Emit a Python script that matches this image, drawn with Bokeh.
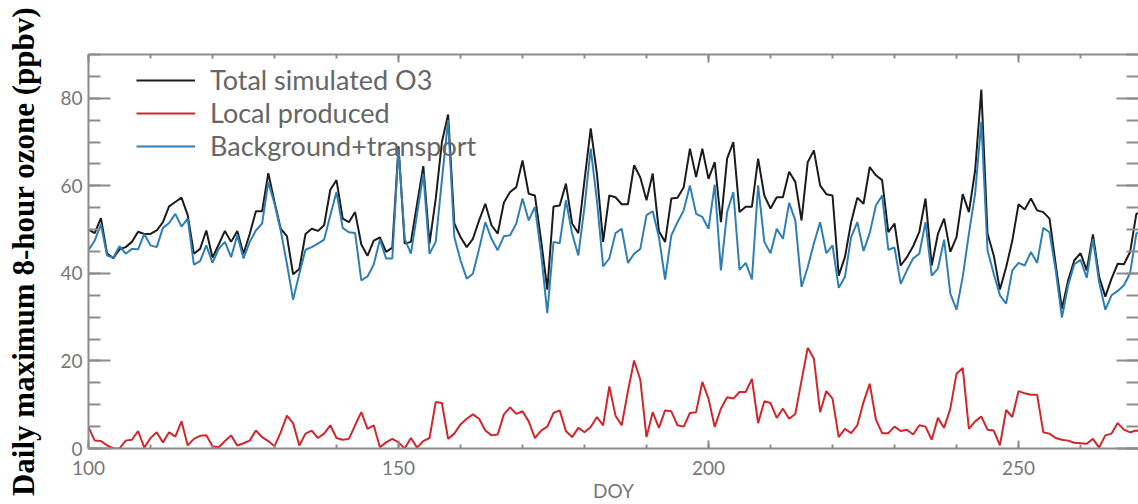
from bokeh.plotting import figure
from bokeh.models import LinearAxis, Range1d, FixedTicker, Legend, LegendItem
from bokeh.embed import file_html
from bokeh.resources import INLINE

days = list(range(100, 271))

total_o3 = [
    50.0, 49.2, 52.6, 44.5, 43.5, 45.5, 46.0, 47.2, 49.5, 49.0,
    49.0, 49.8, 51.7, 55.3, 56.3, 57.3, 53.3, 44.5, 45.6, 49.8,
    43.6, 46.6, 49.7, 47.2, 49.7, 44.5, 49.0, 54.2, 54.2, 62.9,
    56.3, 50.2, 48.5, 39.8, 41.0, 49.0, 50.2, 49.7, 51.0, 59.1,
    61.3, 52.5, 51.7, 54.0, 46.6, 44.0, 47.5, 48.2, 44.9, 45.9,
    69.0, 46.8, 47.2, 55.9, 64.5, 46.8, 57.0, 70.0, 76.3, 51.4,
    48.3, 46.0, 47.9, 52.1, 55.9, 51.0, 49.1, 56.2, 58.6, 59.7,
    65.8, 58.2, 57.8, 47.5, 36.3, 55.3, 55.5, 60.5, 51.4, 49.2,
    61.3, 73.1, 62.8, 47.2, 57.8, 57.4, 55.8, 55.8, 64.7, 61.9,
    56.7, 62.8, 49.6, 47.2, 57.1, 57.3, 59.7, 68.5, 62.0, 68.5,
    61.6, 65.4, 51.7, 66.2, 70.0, 54.0, 55.2, 55.2, 66.2, 57.8,
    54.8, 57.4, 57.4, 63.2, 60.9, 52.1, 65.4, 68.1, 60.1, 58.1,
    57.8, 39.5, 43.7, 51.7, 57.3, 55.9, 64.3, 62.4, 61.3, 49.4,
    51.4, 41.8, 43.7, 46.2, 49.5, 57.1, 41.8, 49.0, 52.5, 44.9,
    48.3, 58.1, 54.0, 63.5, 82.0, 49.1, 44.1, 36.3, 41.4, 47.5,
    55.8, 54.6, 57.1, 54.4, 54.0, 52.5, 42.0, 31.9, 38.4, 43.0,
    44.6, 40.7, 48.9, 39.2, 34.7, 38.8, 42.2, 42.1, 44.9, 53.6,
    54.0,
]

background = [
    45.3, 47.5, 51.2, 44.1, 43.6, 46.2, 44.5, 45.6, 45.5, 49.0,
    46.4, 46.0, 50.4, 51.5, 53.6, 50.7, 52.5, 42.0, 42.8, 46.4,
    42.4, 45.6, 47.2, 43.7, 48.7, 43.4, 47.2, 49.8, 51.4, 60.9,
    55.9, 49.8, 42.2, 34.0, 39.9, 45.4, 46.0, 46.8, 47.7, 53.3,
    58.6, 50.4, 49.4, 49.2, 38.4, 39.3, 42.0, 47.7, 43.4, 43.4,
    68.5, 47.9, 44.5, 53.6, 62.8, 44.5, 47.2, 61.3, 75.0, 48.3,
    43.0, 38.8, 39.9, 45.6, 51.7, 47.9, 45.3, 48.5, 48.7, 51.4,
    57.1, 52.1, 55.2, 44.5, 30.9, 47.2, 46.9, 56.7, 49.1, 44.1,
    55.2, 68.5, 56.7, 41.6, 43.4, 49.2, 50.2, 42.4, 44.5, 45.6,
    53.3, 54.2, 48.3, 38.6, 48.7, 51.7, 54.4, 60.1, 53.6, 52.9,
    50.2, 60.3, 40.7, 54.0, 58.6, 40.8, 42.4, 38.6, 60.1, 47.2,
    44.6, 50.2, 47.9, 56.1, 52.1, 36.9, 41.4, 46.9, 51.7, 44.6,
    46.4, 36.7, 39.2, 48.3, 51.7, 45.1, 49.2, 55.5, 57.8, 45.4,
    45.9, 37.6, 40.7, 43.4, 44.5, 51.7, 39.5, 41.1, 47.7, 35.4,
    31.7, 39.2, 49.1, 58.2, 74.6, 45.3, 39.9, 35.0, 33.1, 40.7,
    42.4, 41.8, 44.9, 42.4, 50.4, 49.4, 40.7, 29.9, 37.3, 42.1,
    43.1, 39.0, 47.9, 38.0, 31.7, 35.0, 36.0, 37.3, 40.1, 49.1,
    50.0,
]

local_produced = [
    4.9, 1.8, 1.7, 0.7, 0.0, 0.0, 1.8, 2.0, 4.0, 0.2,
    2.4, 3.7, 1.4, 3.7, 2.7, 6.2, 0.7, 2.2, 2.9, 3.0,
    0.5, 0.3, 1.7, 3.0, 0.7, 1.2, 1.8, 4.1, 2.6, 1.7,
    0.5, 3.7, 7.5, 5.8, 0.7, 3.4, 4.1, 2.4, 3.4, 5.3,
    2.4, 2.0, 2.2, 5.3, 8.3, 4.5, 5.3, 0.3, 1.4, 2.2,
    1.4, 0.0, 2.4, 0.2, 1.7, 2.4, 10.6, 10.4, 2.2, 3.4,
    5.5, 6.8, 7.8, 6.8, 4.1, 3.0, 3.2, 7.8, 9.4, 7.9,
    8.5, 6.2, 2.4, 4.1, 5.0, 8.1, 8.7, 4.0, 2.6, 4.7,
    3.7, 4.9, 7.2, 5.3, 14.2, 7.5, 5.3, 13.1, 20.1, 15.7,
    2.6, 8.3, 4.7, 8.7, 8.5, 5.3, 5.0, 8.1, 8.3, 15.2,
    11.4, 4.9, 9.1, 11.7, 11.4, 12.9, 12.9, 15.9, 5.8, 10.8,
    10.4, 7.0, 9.1, 6.8, 7.9, 15.5, 23.0, 20.5, 8.3, 13.1,
    11.4, 2.6, 4.5, 3.5, 5.3, 10.6, 14.8, 6.6, 3.5, 3.5,
    5.0, 4.0, 4.3, 3.2, 5.3, 5.0, 2.0, 7.0, 4.7, 9.1,
    17.1, 18.4, 4.5, 6.2, 7.3, 4.3, 4.1, 0.7, 8.8, 7.2,
    13.1, 12.6, 12.3, 12.3, 3.7, 3.4, 2.4, 2.0, 1.8, 1.3,
    1.2, 1.1, 2.2, 0.2, 3.0, 3.4, 5.8, 4.3, 3.7, 4.1,
    4.0,
]

series_names = ["Total simulated O3", "Local produced", "Background+transport"]
x_ticks = [100, 150, 200, 250]
y_ticks = [0, 20, 40, 60, 80]

AXIS_GRAY = "#8c8c8c"
LABEL_GRAY = "#777777"
FONT = "Lato"

p = figure(width=1138, height=504, output_backend="svg", toolbar_location=None,
           x_range=Range1d(100, 269.35), y_range=Range1d(0, 90),
           x_axis_location=None, y_axis_location=None,
           min_border_left=88, min_border_top=54, min_border_bottom=55,
           min_border_right=0)
p.outline_line_color = None
p.grid.visible = False
p.background_fill_color = "white"
p.border_fill_color = "white"


def style_axis(ax, major_len, minor_len, labels=True):
    ax.axis_line_color = AXIS_GRAY
    ax.axis_line_width = 2
    ax.major_tick_line_color = AXIS_GRAY
    ax.minor_tick_line_color = AXIS_GRAY
    ax.major_tick_line_width = 2
    ax.minor_tick_line_width = 2
    ax.major_tick_in = major_len
    ax.major_tick_out = 0
    ax.minor_tick_in = minor_len
    ax.minor_tick_out = 0
    ax.major_label_text_font = FONT
    if labels:
        ax.major_label_text_color = LABEL_GRAY
        ax.major_label_text_font_size = "19px"
    else:
        ax.major_label_text_color = None
        ax.major_label_text_font_size = "1px"
        ax.major_label_standoff = 0


xt = FixedTicker(ticks=x_ticks, minor_ticks=list(range(100, 271, 10)))
yt = FixedTicker(ticks=y_ticks, minor_ticks=list(range(0, 91, 5)))

bottom = LinearAxis(ticker=xt, axis_label="DOY")
style_axis(bottom, 8, 4)
bottom.major_label_standoff = 12
bottom.axis_label_standoff = 1
bottom.axis_label_text_font = FONT
bottom.axis_label_text_font_style = "normal"
bottom.axis_label_text_font_size = "19px"
bottom.axis_label_text_color = LABEL_GRAY
p.add_layout(bottom, "below")

top = LinearAxis(ticker=xt)
style_axis(top, 8, 4, labels=False)
p.add_layout(top, "above")

left = LinearAxis(ticker=yt, axis_label="Daily maximum 8-hour ozone (ppbv)")
style_axis(left, 22, 12)
left.major_label_standoff = 6
left.axis_label_standoff = 16
left.axis_label_text_font = "Liberation Serif"
left.axis_label_text_font_style = "bold"
left.axis_label_text_font_size = "31px"
left.axis_label_text_color = "black"
p.add_layout(left, "left")

right = LinearAxis(ticker=yt)
style_axis(right, 22, 12, labels=False)
right.axis_line_color = None
p.add_layout(right, "right")

r_total = p.line(days, total_o3, line_color="#1c1c1c", line_width=2)
r_local = p.line(days, local_produced, line_color="#d0262c", line_width=2)
r_bg = p.line(days, background, line_color="#2f7fb6", line_width=2)

legend = Legend(items=[LegendItem(label=series_names[0], renderers=[r_total]),
                       LegendItem(label=series_names[1], renderers=[r_local]),
                       LegendItem(label=series_names[2], renderers=[r_bg])],
                location=(48, 286), margin=0, padding=0, spacing=0,
                glyph_width=59, glyph_height=30, label_height=30,
                label_standoff=15, border_line_color=None,
                background_fill_alpha=0,
                label_text_font=FONT, label_text_font_size="27px",
                label_text_color="#666666")
p.add_layout(legend)

open("out.html", "w").write(file_html(p, INLINE))
